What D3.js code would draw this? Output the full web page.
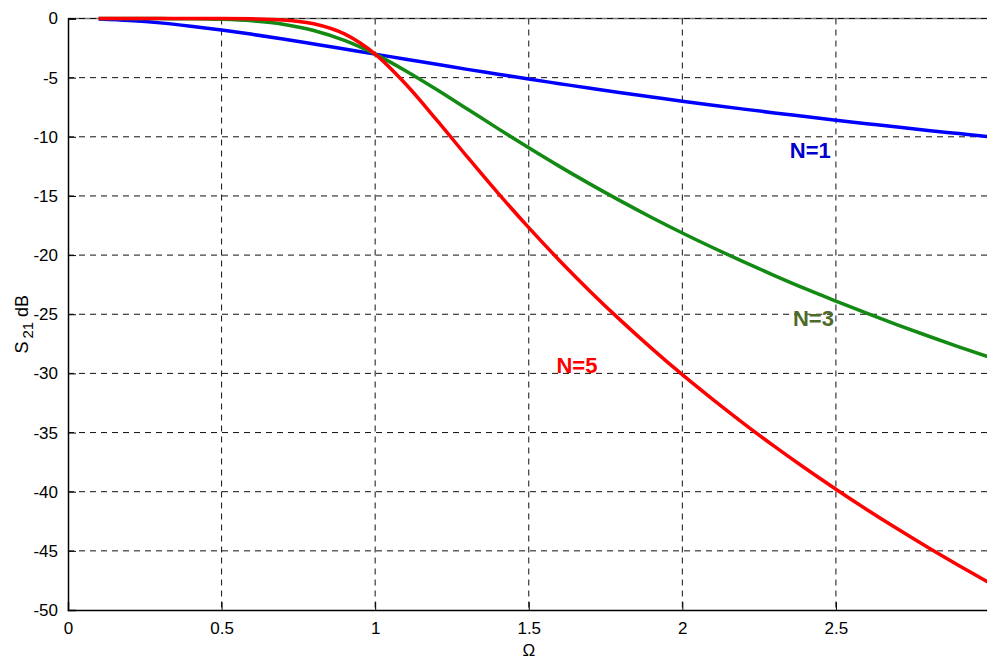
<!DOCTYPE html>
<html>
<head>
<meta charset="utf-8">
<script src="https://cdn.jsdelivr.net/npm/d3@7"></script>
<style>
  body { margin: 0; background: #fff; }
  svg { display: block; font-family: "Liberation Sans", Arial, sans-serif; }
</style>
</head>
<body>
<div id="chart"></div>
<script>
// frequency points (normalised, Omega)
var omega = [0.1,0.2,0.3,0.4,0.5,0.6,0.7,0.8,0.9,1.0,1.1,1.2,1.3,1.4,1.5,1.6,1.7,1.8,1.9,2.0,2.1,2.2,2.3,2.4,2.5,2.6,2.7,2.8,2.9,3.0];

// S21 in dB for each order
var n1 = [-0.04,-0.17,-0.37,-0.65,-0.97,-1.34,-1.73,-2.15,-2.58,-3.01,-3.45,-3.87,-4.30,-4.71,-5.12,-5.51,-5.90,-6.27,-6.63,-6.99,-7.33,-7.66,-7.98,-8.29,-8.60,-8.89,-9.18,-9.46,-9.73,-10.0];
var n3 = [0,0,-0.01,-0.02,-0.07,-0.20,-0.48,-1.01,-1.85,-3.01,-4.43,-6.00,-7.65,-9.31,-10.93,-12.50,-14.00,-15.44,-16.82,-18.13,-19.38,-20.58,-21.73,-22.84,-23.89,-24.91,-25.89,-26.84,-27.75,-28.63];
var n5 = [0,0,0,0,0,-0.03,-0.12,-0.44,-1.30,-3.01,-5.56,-8.57,-11.70,-14.76,-17.68,-20.45,-23.07,-25.54,-27.88,-30.11,-32.22,-34.24,-36.17,-38.02,-39.79,-41.50,-43.14,-44.72,-46.24,-47.71];

// the 3 tick sits past the right edge of the picture, so no label is shown there
var xTicks = [0, 0.5, 1, 1.5, 2, 2.5];
var yTicks = [0,-5,-10,-15,-20,-25,-30,-35,-40,-45,-50];

var seriesNames = ["N=1", "N=3", "N=5"];
var seriesData = [n1, n3, n5];

var margin = {top: 18.5, left: 68},
    width = 921.5,
    height = 591.5;

var svg = d3.select("#chart")
    .append("svg")
    .attr("width", 987)
    .attr("height", 660)
    .append("g")
    .attr("transform", "translate(" + margin.left + "," + margin.top + ")");

var x = d3.scaleLinear().domain([0, 3]).range([0, width]);
var y = d3.scaleLinear().domain([-50, 0]).range([height, 0]);

// top border
svg.append("line")
    .attr("x1", 0).attr("x2", width)
    .attr("y1", 0).attr("y2", 0)
    .attr("stroke", "#777").attr("stroke-width", 1.5);

// dashed grid
svg.append("g")
    .selectAll("line")
    .data(xTicks.filter(function(d){ return d > 0; }))
    .enter().append("line")
    .attr("x1", function(d){ return x(d); })
    .attr("x2", function(d){ return x(d); })
    .attr("y1", 0).attr("y2", height)
    .attr("stroke", "#111").attr("stroke-width", 1)
    .attr("stroke-dasharray", "6,5");

svg.append("g")
    .selectAll("line")
    .data(yTicks.filter(function(d){ return d > -50; }))
    .enter().append("line")
    .attr("x1", 0).attr("x2", width)
    .attr("y1", function(d){ return y(d); })
    .attr("y2", function(d){ return y(d); })
    .attr("stroke", "#111").attr("stroke-width", 1)
    .attr("stroke-dasharray", "6,5");

// curves
var color = d3.scaleOrdinal()
    .domain(seriesNames)
    .range(["#0000ff", "#138a13", "#ff0000"]);

var line = d3.line()
    .x(function(d){ return x(d[0]); })
    .y(function(d){ return y(d[1]); })
    .curve(d3.curveMonotoneX);

seriesData.forEach(function(vals, i) {
    svg.append("path")
        .datum(omega.map(function(w, j){ return [w, vals[j]]; }))
        .attr("fill", "none")
        .attr("stroke", color(seriesNames[i]))
        .attr("stroke-width", 3.5)
        .attr("d", line);
});

// axes
var xAxis = d3.axisBottom(x).tickValues(xTicks).tickSize(-8).tickPadding(12)
    .tickFormat(function(d){ return d; });
var gx = svg.append("g")
    .attr("transform", "translate(0," + height + ")")
    .call(xAxis);

var yAxis = d3.axisLeft(y).tickValues(yTicks).tickSize(-8).tickPadding(13)
    .tickFormat(function(d){ return d; });
var gy = svg.append("g").call(yAxis);

[gx, gy].forEach(function(g) {
    g.select(".domain").attr("stroke", "#000").attr("stroke-width", 1.5);
    g.selectAll(".tick line").attr("stroke", "#000").attr("stroke-width", 1);
    g.selectAll(".tick text")
        .attr("fill", "#000")
        .style("font-size", "17px")
        .style("font-family", "'Liberation Sans', Arial, sans-serif");
});
gy.selectAll(".tick text").attr("dx", "3px");

// axis titles
svg.append("text")
    .attr("x", x(1.5))
    .attr("y", height + 46)
    .attr("text-anchor", "middle")
    .style("font-size", "17px")
    .text("\u03a9");

var yl = svg.append("text")
    .attr("transform", "translate(-40," + (height / 2 + 10) + ") rotate(-90)")
    .attr("text-anchor", "middle")
    .style("font-size", "18px");
yl.append("tspan").text("S");
yl.append("tspan").attr("dx", 3).attr("dy", 5).style("font-size", "15px").text("21");
yl.append("tspan").attr("dy", -5).text(" dB");

// series labels
var labels = [
    {t: "N=1", w: 2.35, v: -11.8, c: "#0000cc"},
    {t: "N=3", w: 2.36, v: -26.0, c: "#4e6b2a"},
    {t: "N=5", w: 1.59, v: -30.0, c: "#ff0000"}
];
svg.selectAll(".lbl")
    .data(labels)
    .enter().append("text")
    .attr("class", "lbl")
    .attr("x", function(d){ return x(d.w); })
    .attr("y", function(d){ return y(d.v); })
    .attr("fill", function(d){ return d.c; })
    .style("font-size", "22px")
    .style("font-weight", "bold")
    .text(function(d){ return d.t; });
</script>
</body>
</html>
